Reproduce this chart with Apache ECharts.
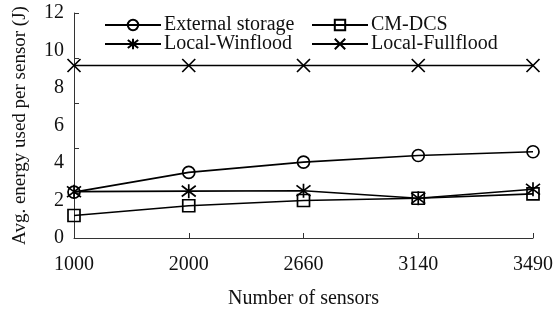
<!DOCTYPE html>
<html>
<head>
<meta charset="utf-8">
<script src="https://cdn.jsdelivr.net/npm/echarts@6/dist/echarts.min.js"></script>
<style>
  html, body { margin: 0; padding: 0; background: #fff; }
  #chart { width: 560px; height: 310px; }
</style>
</head>
<body>
<div id="chart"></div>
<script>
// Data
const sensorCounts = ['1000', '2000', '2660', '3140', '3490'];
const externalStorage = [2.45, 3.5, 4.05, 4.4, 4.6];
const cmDcs = [1.2, 1.72, 2.0, 2.12, 2.35];
const localWinflood = [2.47, 2.5, 2.52, 2.12, 2.6];
const localFullflood = [9.2, 9.2, 9.2, 9.2, 9.2];
const yLabelTicks = [0, 2, 4, 6, 8, 10, 12];

const FONT = 'Liberation Serif';
const ASTERISK = 'path://M-1,-1L1,1M-1,1L1,-1M0,-1.3L0,1.3';
const CROSS = 'path://M-1,-1L1,1M-1,1L1,-1';

function makeSeries(name, data, symbol, size) {
  return {
    name: name,
    type: 'line',
    data: data,
    symbol: symbol,
    symbolSize: size,
    showAllSymbol: true,
    lineStyle: { color: '#000', width: 1.7 },
    itemStyle: { color: 'rgba(0,0,0,0)', borderColor: '#000', borderWidth: 1.7 },
    emphasis: { disabled: true },
    animation: false
  };
}

const legendText = { fontFamily: FONT, fontSize: 20, color: '#111', padding: [0, 0, 0, -2] };

const chart = echarts.init(document.getElementById('chart'));

const option = {
  backgroundColor: '#fff',
  animation: false,
  textStyle: { fontFamily: FONT, color: '#111' },
  grid: { left: 74, right: 27, top: 13, bottom: 72, outerBoundsMode: 'none', containLabel: false },
  legend: [
    {
      data: ['External storage', 'Local-Winflood'],
      orient: 'vertical',
      left: 104,
      top: 15,
      padding: 0,
      itemWidth: 56,
      itemHeight: 13,
      itemGap: -1,
      textStyle: legendText
    },
    {
      data: ['CM-DCS', 'Local-Fullflood'],
      orient: 'vertical',
      left: 311,
      top: 15,
      padding: 0,
      itemWidth: 56,
      itemHeight: 13,
      itemGap: -1,
      textStyle: legendText
    }
  ],
  xAxis: {
    type: 'category',
    data: sensorCounts,
    boundaryGap: false,
    name: 'Number of sensors',
    nameLocation: 'middle',
    nameGap: 51,
    nameTextStyle: { fontFamily: FONT, fontSize: 20, color: '#111' },
    axisLine: { lineStyle: { color: '#333', width: 1 } },
    axisTick: { inside: true, length: 5, alignWithLabel: true, lineStyle: { color: '#333' } },
    axisLabel: { fontFamily: FONT, fontSize: 20, color: '#111', margin: 17 },
    splitLine: { show: false }
  },
  yAxis: [
    {
      type: 'value',
      min: 0,
      max: 12,
      interval: 2,
      name: 'Avg. energy used per sensor (J)',
      nameLocation: 'middle',
      nameGap: 44,
      nameTextStyle: { fontFamily: FONT, fontSize: 19, color: '#111' },
      axisLine: { show: true, lineStyle: { color: '#333', width: 1 } },
      axisTick: { show: false },
      axisLabel: {
        fontFamily: FONT, fontSize: 20, color: '#111', margin: 10,
        formatter: v => (yLabelTicks.indexOf(v) >= 0 ? String(v) : '')
      },
      splitLine: { show: false }
    },
    {
      type: 'value',
      position: 'left',
      min: 0,
      max: 12,
      interval: 2.4,
      axisLine: { show: false },
      axisTick: { show: true, inside: true, length: 5, lineStyle: { color: '#333' } },
      axisLabel: { show: false },
      splitLine: { show: false }
    }
  ],
  series: [
    makeSeries('External storage', externalStorage, 'circle', 12),
    makeSeries('CM-DCS', cmDcs, 'rect', 12),
    makeSeries('Local-Winflood', localWinflood, ASTERISK, 14),
    makeSeries('Local-Fullflood', localFullflood, CROSS, 13)
  ]
};

chart.setOption(option);
</script>
</body>
</html>
